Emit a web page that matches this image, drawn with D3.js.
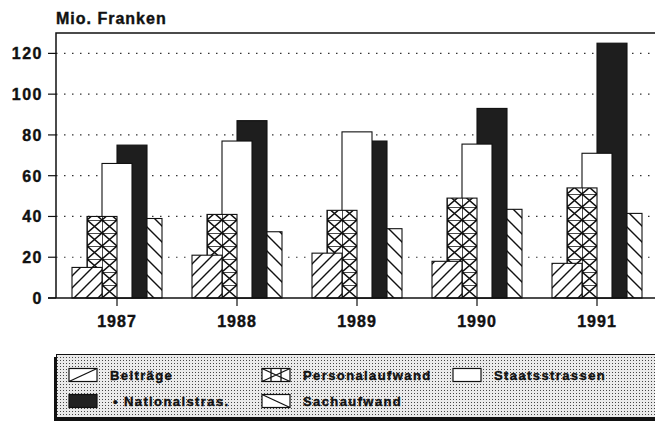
<!DOCTYPE html>
<html>
<head>
<meta charset="utf-8">
<script src="https://cdn.jsdelivr.net/npm/d3@7"></script>
<style>
  body { margin: 0; background: #fff; }
  svg text { font-family: "Liberation Sans", Arial, sans-serif; font-weight: bold; fill: #111; stroke: #111; stroke-width: 0.4px; }
</style>
</head>
<body>
<svg id="chart" width="655" height="423"></svg>
<script>
// values (Mio. Franken)
var years = ["1987", "1988", "1989", "1990", "1991"];
var seriesNames = ["Beiträge", "Personalaufwand", "Staatsstrassen", "• Nationalstras.", "Sachaufwand"];
var beitraege = [15, 21, 22, 18, 17];
var personal = [40, 41, 43, 49, 54];
var staats = [66, 77, 81.5, 75.5, 71];
var national = [75, 87, 77, 93, 125];
var sach = [39, 32.5, 34, 43.5, 41.5];
var yTicks = [0, 20, 40, 60, 80, 100, 120];

var values = [beitraege, personal, staats, national, sach];
var fills = ["url(#hatchUp)", "url(#cross)", "#fff", "#1e1e1e", "url(#hatchDown)"];

var svg = d3.select("#chart");
var plotLeft = 56, plotTop = 33, plotBottom = 298;

var x = d3.scaleBand().domain(years).range([57, 657]).padding(0);
var y = d3.scaleLinear().domain([0, 130]).range([plotBottom, plotTop]);
var step = x.bandwidth();
// bars are a quarter of a group wide, each one shifted an eighth to the right
var sub = d3.scalePoint().domain(d3.range(seriesNames.length)).range([step * 1 / 8, step * 5 / 8]);
var barW = step / 4;

var defs = svg.append("defs");

var p1 = defs.append("pattern").attr("id", "hatchUp").attr("patternUnits", "userSpaceOnUse")
  .attr("width", 12).attr("height", 12);
p1.append("rect").attr("width", 12).attr("height", 12).attr("fill", "#fff");
p1.append("path").attr("d", "M0,12 L12,0 M-3,3 L3,-3 M9,15 L15,9").attr("stroke", "#111").attr("stroke-width", 1.4);

var p2 = defs.append("pattern").attr("id", "hatchDown").attr("patternUnits", "userSpaceOnUse")
  .attr("width", 16).attr("height", 16);
p2.append("rect").attr("width", 16).attr("height", 16).attr("fill", "#fff");
p2.append("path").attr("d", "M0,0 L16,16 M-4,12 L4,20 M12,-4 L20,4").attr("stroke", "#111").attr("stroke-width", 1.4);

var p3 = defs.append("pattern").attr("id", "cross").attr("patternUnits", "userSpaceOnUse")
  .attr("x", x(years[0]) + sub(1)).attr("y", plotBottom)
  .attr("width", 15).attr("height", 13);
p3.append("rect").attr("width", 15).attr("height", 13).attr("fill", "#fff");
p3.append("path").attr("d", "M0,0 L15,13 M15,0 L0,13 M0,0 L15,0 M0,0 L0,13")
  .attr("stroke", "#111").attr("stroke-width", 1.5).attr("fill", "none");

var dots = defs.append("pattern").attr("id", "dots").attr("patternUnits", "userSpaceOnUse")
  .attr("width", 3).attr("height", 3);
dots.append("rect").attr("width", 3).attr("height", 3).attr("fill", "#eaeaea");
dots.append("rect").attr("width", 1).attr("height", 1).attr("fill", "#444");

// title
svg.append("text").attr("x", 56).attr("y", 24).attr("font-size", 16)
  .attr("letter-spacing", 1).text("Mio. Franken");

// grid lines
svg.append("g").selectAll("line").data(yTicks.filter(function(d) { return d > 0; }))
  .enter().append("line")
  .attr("x1", plotLeft).attr("x2", 655)
  .attr("y1", function(d) { return y(d); }).attr("y2", function(d) { return y(d); })
  .attr("stroke", "#333").attr("stroke-width", 1.2).attr("stroke-dasharray", "1.5,6.5");

// bars, last series at the back
var groups = svg.append("g").selectAll("g").data(d3.range(seriesNames.length).reverse())
  .enter().append("g");
groups.selectAll("rect").data(function(s) {
    return years.map(function(yr, i) { return { s: s, year: yr, v: values[s][i] }; });
  })
  .enter().append("rect")
  .attr("x", function(d) { return x(d.year) + sub(d.s); })
  .attr("y", function(d) { return y(d.v); })
  .attr("width", barW)
  .attr("height", function(d) { return plotBottom - y(d.v); })
  .attr("fill", function(d) { return fills[d.s]; })
  .attr("stroke", "#111").attr("stroke-width", 1.1);

// frame
svg.append("path").attr("d", "M" + plotLeft + "," + plotBottom + " L" + plotLeft + "," + plotTop + " L655," + plotTop)
  .attr("fill", "none").attr("stroke", "#111").attr("stroke-width", 1.5);
svg.append("line").attr("x1", 48).attr("x2", 655).attr("y1", plotBottom).attr("y2", plotBottom)
  .attr("stroke", "#111").attr("stroke-width", 1.5);

// y axis ticks
var yAxis = svg.append("g");
yAxis.selectAll("line").data(yTicks).enter().append("line")
  .attr("x1", 48).attr("x2", plotLeft)
  .attr("y1", function(d) { return y(d); }).attr("y2", function(d) { return y(d); })
  .attr("stroke", "#111").attr("stroke-width", 1.2);
yAxis.selectAll("text").data(yTicks).enter().append("text")
  .attr("x", 43).attr("y", function(d) { return y(d) + 6; })
  .attr("text-anchor", "end").attr("font-size", 16).attr("letter-spacing", 1.5)
  .text(function(d) { return d; });

// x axis ticks and labels
var xAxis = svg.append("g");
xAxis.selectAll("line").data(years).enter().append("line")
  .attr("x1", function(d) { return x(d) + step / 2; }).attr("x2", function(d) { return x(d) + step / 2; })
  .attr("y1", plotBottom).attr("y2", plotBottom + 8)
  .attr("stroke", "#111").attr("stroke-width", 1.2);
xAxis.selectAll("text").data(years).enter().append("text")
  .attr("x", function(d) { return x(d) + step / 2; }).attr("y", 327)
  .attr("text-anchor", "middle").attr("font-size", 16).attr("letter-spacing", 1)
  .text(function(d) { return d; });

// legend
var leg = svg.append("g");
leg.append("rect").attr("x", 54).attr("y", 357).attr("width", 620).attr("height", 64).attr("fill", "#111");
leg.append("rect").attr("x", 56.5).attr("y", 354.5).attr("width", 620).attr("height", 63)
  .attr("fill", "url(#dots)").attr("stroke", "#111").attr("stroke-width", 1);

var legPos = [[69, 375], [262, 375], [453, 375], [69, 401], [262, 401]];
var swatchPaths = ["M0,13 L28,0", "M0,0 L28,13 M28,0 L0,13 M9,0 L9,13 M19,0 L19,13", "", "", "M0,0 L28,13"];
var items = leg.selectAll("g.item").data(d3.range(seriesNames.length)).enter().append("g")
  .attr("class", "item")
  .attr("transform", function(i) { return "translate(" + legPos[i][0] + "," + legPos[i][1] + ")"; });
items.append("rect").attr("x", 0).attr("y", -6.5).attr("width", 28).attr("height", 13)
  .attr("fill", function(i) { return i === 3 ? "#222" : "#fff"; })
  .attr("stroke", "#111").attr("stroke-width", 1.2);
items.append("path").attr("transform", "translate(0,-6.5)")
  .attr("d", function(i) { return swatchPaths[i]; })
  .attr("stroke", "#111").attr("stroke-width", 1.3).attr("fill", "none");
items.append("text").attr("x", function(i) { return i === 3 ? 44 : 41; }).attr("y", 5)
  .attr("font-size", 13).attr("letter-spacing", 1.4)
  .text(function(i) { return seriesNames[i]; });
</script>
</body>
</html>
